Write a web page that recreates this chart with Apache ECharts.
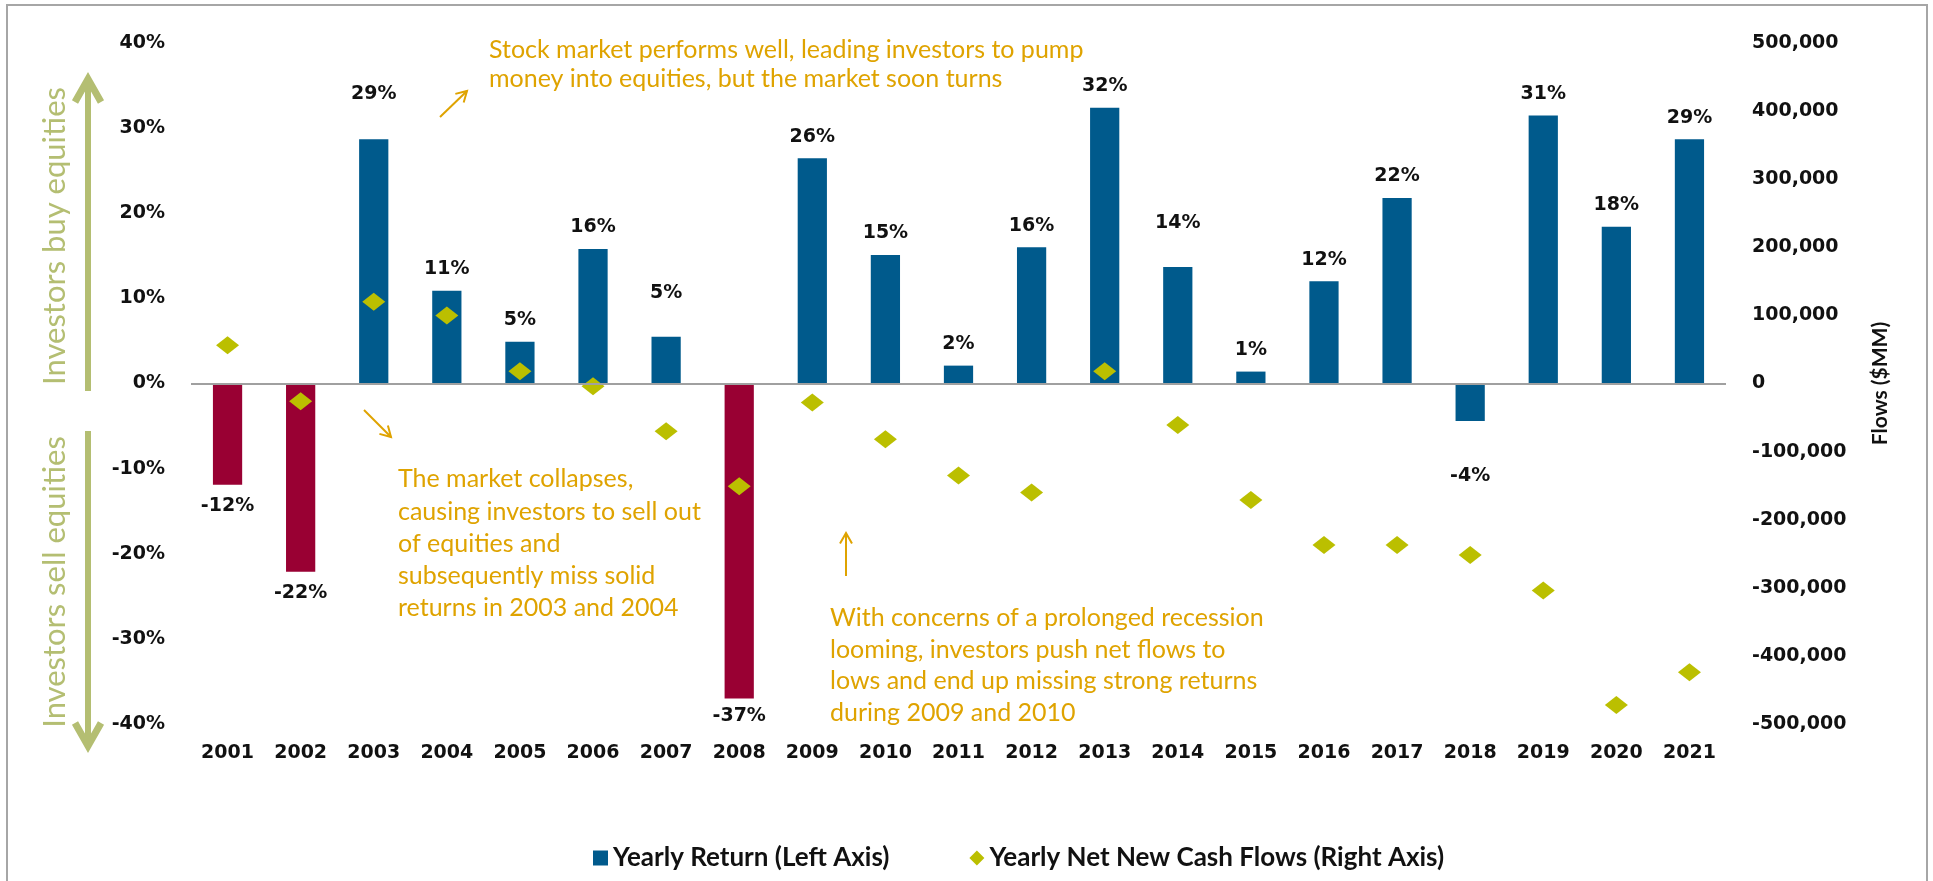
<!DOCTYPE html>
<html>
<head>
<meta charset="utf-8">
<script src="https://cdn.jsdelivr.net/npm/echarts@6/dist/echarts.min.js"></script>
<style>
  html, body { margin: 0; padding: 0; background: #ffffff; }
  #chart { width: 1933px; height: 881px; }
</style>
</head>
<body>
<div id="chart"></div>
<script>
// ---------------- data ----------------
const years = ['2001','2002','2003','2004','2005','2006','2007','2008','2009','2010','2011',
               '2012','2013','2014','2015','2016','2017','2018','2019','2020','2021'];
// Yearly return, % (left axis)
const yearlyReturn = [-11.9, -22.1, 28.7, 10.9, 4.9, 15.8, 5.49, -37.0, 26.46, 15.1, 2.1,
                      16.0, 32.4, 13.7, 1.4, 12.0, 21.8, -4.4, 31.49, 18.4, 28.7];
// Yearly net new cash flows, $MM (right axis)
const netFlows = [56000, -26000, 120000, 100000, 18000, -4000, -70000, -151000, -28000, -82000, -135000,
                  -160000, 18000, -61000, -171000, -237000, -237000, -252000, -304000, -472000, -424000];
// bars drawn in the "crash" colour
const crashYears = ['2001', '2002', '2008'];
// axis ranges: [min, max, step]
const leftAxisRange = [-40, 40, 10];
const rightAxisRange = [-500000, 500000, 100000];

// ---------------- styling (kept apart from data) ----------------
const BLUE = '#005A8C';
const CRIMSON = '#990033';
const DIAMOND = '#BBBF00';
const GOLD = '#DFA300';
const SAGE = '#B4BE72';
const NUM_FONT = '"DejaVu Sans", sans-serif';
const TEXT_FONT = 'Lato, "Open Sans", sans-serif';
// extra label distance (px) for some bar labels, in year order
const labelNudge = [0, 0, 24, 0, 0, 0, 22, -4, 0, 0, 0, 0, 0, 22, 0, 0, 0, 34, 0, 0, 0];

function fmtThousands(v) {
  const s = Math.abs(v).toString().replace(/\B(?=(\d{3})+(?!\d))/g, ',');
  return (v < 0 ? '-' : '') + s;
}

const barData = yearlyReturn.map((v, i) => {
  const neg = v < 0;
  return {
    value: v,
    itemStyle: { color: crashYears.includes(years[i]) ? CRIMSON : BLUE },
    label: {
      position: neg ? 'bottom' : 'top',
      offset: [0, neg ? labelNudge[i] : -labelNudge[i]]
    }
  };
});

function arrow(x1, y1, x2, y2, color, width, head) {
  const a = Math.atan2(y2 - y1, x2 - x1);
  const sp = Math.PI / 6;
  const p1 = [x2 - head * Math.cos(a - sp), y2 - head * Math.sin(a - sp)];
  const p2 = [x2 - head * Math.cos(a + sp), y2 - head * Math.sin(a + sp)];
  return [
    { type: 'line', shape: { x1, y1, x2, y2 }, style: { stroke: color, lineWidth: width } },
    { type: 'polyline', shape: { points: [p1, [x2, y2], p2] },
      style: { stroke: color, lineWidth: width, fill: null, lineJoin: 'miter' } }
  ];
}

const annoStyle = (text, x, y, lh) => ({
  type: 'text', x, y,
  style: { text, fill: GOLD, font: '25px ' + TEXT_FONT, lineHeight: lh, align: 'left', verticalAlign: 'top' }
});

const graphics = [
  // outer frame
  { type: 'rect', shape: { x: 7, y: 5, width: 1920, height: 890 },
    style: { fill: null, stroke: '#A6A6A6', lineWidth: 2 }, silent: true },
  // side captions
  { type: 'text', x: 55, y: 236, rotation: Math.PI / 2,
    style: { text: 'Investors buy equities', fill: SAGE, font: '31px ' + TEXT_FONT, align: 'center', verticalAlign: 'middle' } },
  { type: 'text', x: 55, y: 582, rotation: Math.PI / 2,
    style: { text: 'Investors sell equities', fill: SAGE, font: '31px ' + TEXT_FONT, align: 'center', verticalAlign: 'middle' } },
  // side arrows
  { type: 'line', shape: { x1: 88, y1: 391, x2: 88, y2: 82 }, style: { stroke: SAGE, lineWidth: 6 } },
  { type: 'polyline', shape: { points: [[75, 102], [88, 79], [101, 102]] },
    style: { stroke: SAGE, lineWidth: 7, fill: null, lineJoin: 'miter' } },
  { type: 'line', shape: { x1: 88, y1: 431, x2: 88, y2: 745 }, style: { stroke: SAGE, lineWidth: 6 } },
  { type: 'polyline', shape: { points: [[75, 723], [88, 746], [101, 723]] },
    style: { stroke: SAGE, lineWidth: 7, fill: null, lineJoin: 'miter' } },
  // annotations
  annoStyle('Stock market performs well, leading investors to pump\nmoney into equities, but the market soon turns', 489, 35, 29),
  annoStyle('The market collapses,\ncausing investors to sell out\nof equities and\nsubsequently miss solid\nreturns in 2003 and 2004', 398, 463, 32.3),
  annoStyle('With concerns of a prolonged recession\nlooming, investors push net flows to\nlows and end up missing strong returns\nduring 2009 and 2010', 830, 602, 31.7),
  ...arrow(440, 117, 467, 91, GOLD, 2, 12),
  ...arrow(364, 410, 391, 437, GOLD, 2, 12),
  ...arrow(846, 576, 846, 533, GOLD, 2, 12)
];

const chart = echarts.init(document.getElementById('chart'), null, { renderer: 'canvas' });
chart.setOption({
  animation: false,
  backgroundColor: '#ffffff',
  grid: { left: 191, right: 207, top: 43, bottom: 157, containLabel: false },
  legend: {
    left: 588, top: 840,
    itemWidth: 15, itemHeight: 15, itemGap: 80,
    textStyle: { fontFamily: TEXT_FONT, fontWeight: 'bold', fontSize: 26, color: '#111' },
    data: [
      { name: 'Yearly Return (Left Axis)', icon: 'rect', itemStyle: { color: BLUE } },
      { name: 'Yearly Net New Cash Flows (Right Axis)', icon: 'diamond', itemStyle: { color: DIAMOND } }
    ]
  },
  xAxis: {
    type: 'category',
    data: years,
    axisLine: { show: false, onZero: false },
    axisTick: { show: false },
    axisLabel: { margin: 20, fontFamily: NUM_FONT, fontWeight: 'bold', fontSize: 19, color: '#111' },
    splitLine: { show: false }
  },
  yAxis: [
    {
      type: 'value',
      min: leftAxisRange[0], max: leftAxisRange[1], interval: leftAxisRange[2],
      axisLine: { show: false }, axisTick: { show: false }, splitLine: { show: false },
      axisLabel: { margin: 26, formatter: '{value}%', fontFamily: NUM_FONT, fontWeight: 'bold', fontSize: 19, color: '#111' }
    },
    {
      type: 'value', position: 'right',
      min: rightAxisRange[0], max: rightAxisRange[1], interval: rightAxisRange[2],
      axisLine: { show: false }, axisTick: { show: false }, splitLine: { show: false },
      axisLabel: { margin: 26, formatter: fmtThousands, fontFamily: NUM_FONT, fontWeight: 'bold', fontSize: 19, color: '#111' },
      name: 'Flows ($MM)', nameLocation: 'middle', nameRotate: 90, nameGap: 144,
      nameTextStyle: { fontFamily: TEXT_FONT, fontWeight: 'bold', fontSize: 21, color: '#111' }
    }
  ],
  series: [
    {
      name: 'Yearly Return (Left Axis)',
      type: 'bar',
      yAxisIndex: 0,
      barWidth: '40%',
      data: barData,
      itemStyle: { color: BLUE },
      label: {
        show: true, distance: 12,
        formatter: p => Math.round(p.value) + '%',
        fontFamily: NUM_FONT, fontWeight: 'bold', fontSize: 19, color: '#111'
      },
      markLine: {
        silent: true, symbol: 'none', label: { show: false },
        lineStyle: { color: '#A0A0A0', width: 2, type: 'solid' },
        data: [{ yAxis: 0 }]
      },
      z: 2
    },
    {
      name: 'Yearly Net New Cash Flows (Right Axis)',
      type: 'scatter',
      yAxisIndex: 1,
      symbol: 'diamond',
      symbolSize: [23, 18],
      itemStyle: { color: DIAMOND, opacity: 1 },
      data: netFlows,
      z: 3
    }
  ],
  graphic: graphics
});
</script>
</body>
</html>
